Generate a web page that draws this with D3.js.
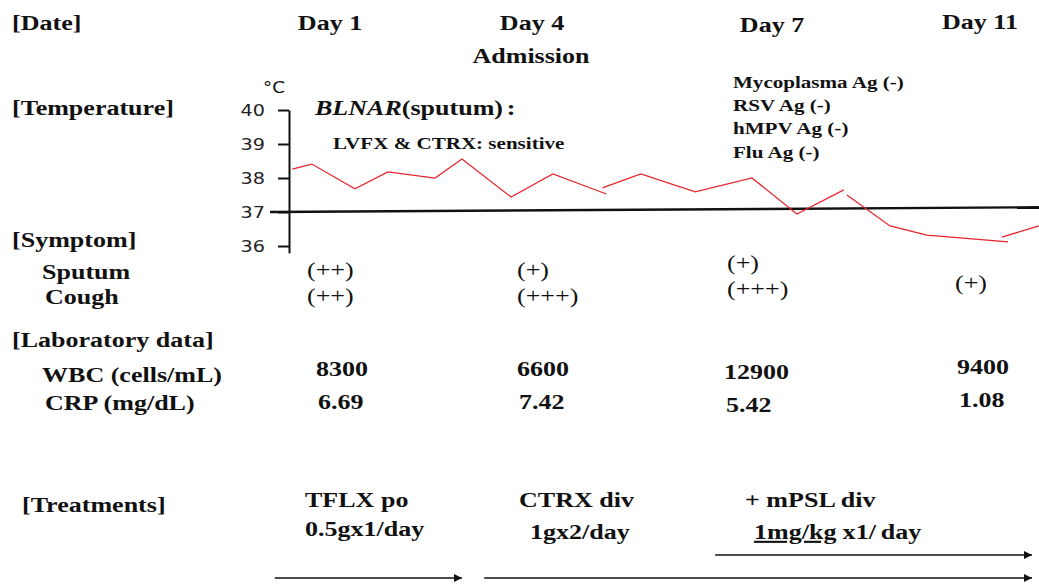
<!DOCTYPE html>
<html>
<head>
<meta charset="utf-8">
<script src="https://cdn.jsdelivr.net/npm/d3@7"></script>
<style>
  body { margin: 0; background: #fff; }
  svg { display: block; }
  text { font-family: "Liberation Serif", "Times New Roman", serif; fill: #111; }
  .axis text { font-family: "DejaVu Sans", sans-serif; font-size: 16px; fill: #222; }
</style>
</head>
<body>
<div id="chart"></div>
<script>
// columns
const days = [1, 4, 7, 11];
const dayLabels = ["Day 1", "Day 4", "Day 7", "Day 11"];

// temperature, drawn as separate pieces like the original sheet
const tempDays = [
  [0.44, 0.73, 1.37, 1.86, 2.56, 2.96, 3.69, 4.26, 4.93],
  [4.88, 5.36, 6.04, 6.75, 7.48, 8.38],
  [8.44, 9.27, 9.98, 11.54],
  [11.42, 12.13]
];
const tempValues = [
  [38.26, 38.41, 37.68, 38.18, 38.0, 38.56, 37.44, 38.12, 37.53],
  [37.71, 38.12, 37.59, 38.0, 36.94, 37.65],
  [37.5, 36.59, 36.32, 36.12],
  [36.26, 36.59]
];
const tempTicks = [36, 37, 38, 39, 40];
const normalTemp = 37;

// symptoms
const sputum = ["(++)", "(+)", "(+)", null];
const cough = ["(++)", "(+++)", "(+++)", "(+)"];

// lab data
const wbc = [8300, 6600, 12900, 9400];
const crp = ["6.69", "7.42", "5.42", "1.08"];

const antigens = ["Mycoplasma Ag (-)", "RSV Ag (-)", "hMPV Ag (-)", "Flu Ag (-)"];

// treatments
const drugs = ["TFLX po", "CTRX div", "+ mPSL div"];
const doses = ["0.5gx1/day", "1gx2/day", "1mg/kg"];
const drugStart = [0.18, 3.29, 6.29];
const drugEnd = [2.96, 12.0, 12.0];

const W = 1039, H = 585;
const SX = 1.24; // the scanned sheet is stretched sideways

const svg = d3.select("#chart").append("svg")
  .attr("width", W)
  .attr("height", H);

svg.append("rect").attr("width", W).attr("height", H).attr("fill", "#fff");

const x = d3.scaleLinear().domain(days).range([330, 532, 772, 980]);
const y = d3.scaleLinear().domain([35.8, 40]).range([252.8, 110]);

// column anchors for the table rows
const symCol = d3.scaleOrdinal().domain(days).range([307, 517, 727, 955]);
const symDy = d3.scaleOrdinal().domain(days).range([0, 0, -7, -13]);
const labCol = d3.scaleOrdinal().domain(days).range([316, 517, 724, 957]);
const labDy = d3.scaleOrdinal().domain(days).range([0, 0, 3, -2]);
const txCol = d3.scaleOrdinal().domain(drugs).range([305, 519, 745]);
const doseCol = d3.scaleOrdinal().domain(drugs).range([305, 530, 754]);

const at = (xx, yy) => `translate(${xx},${yy}) scale(${SX},1)`;

function label(t, xx, yy, size, weight){
  return svg.append("text")
    .attr("transform", at(xx, yy))
    .attr("font-size", size)
    .attr("font-weight", weight || "bold")
    .text(t);
}

// row headings
label("[Date]", 12, 30, 21);
label("[Temperature]", 12, 115, 21);
label("[Symptom]", 12, 247, 21);
label("Sputum", 42, 279, 21);
label("Cough", 45, 304, 21);
label("[Laboratory data]", 12, 347, 21);
label("WBC (cells/mL)", 42, 382, 21);
label("CRP (mg/dL)", 45, 410, 21);
label("[Treatments]", 22, 512, 21);

// day header
const dayDy = [0, 0, 2, -1];
svg.selectAll("text.day").data(days).join("text")
  .attr("class", "day")
  .attr("transform", (d, i) => at(x(d), 30 + dayDy[i]))
  .attr("text-anchor", "middle")
  .attr("font-size", 21).attr("font-weight", "bold")
  .text((d, i) => dayLabels[i]);
svg.append("text")
  .attr("transform", at(x(4) - 1, 63))
  .attr("text-anchor", "middle")
  .attr("font-size", 21).attr("font-weight", "bold")
  .text("Admission");

// temperature axis
const axis = svg.append("g")
  .attr("class", "axis")
  .attr("transform", "translate(289,0)")
  .call(d3.axisLeft(y).tickValues(tempTicks).tickSize(11).tickSizeOuter(0).tickFormat(d3.format("d")));
axis.select(".domain").attr("stroke", "#111").attr("stroke-width", 2);
axis.selectAll(".tick line").attr("stroke", "#111").attr("stroke-width", 2);
axis.selectAll(".tick text").attr("x", null).attr("transform", `translate(-24,0) scale(1.2,1)`);
svg.append("text")
  .attr("transform", `translate(263,93) scale(1.15,1)`)
  .style("font-family", "'DejaVu Sans', sans-serif")
  .attr("font-size", 16).attr("fill", "#222")
  .text("°C");

// 37 degree line
svg.append("line")
  .attr("x1", 270).attr("x2", W)
  .attr("y1", y(normalTemp)).attr("y2", y(normalTemp + 0.14))
  .attr("stroke", "#111").attr("stroke-width", 2.4);

// temperature trace
const line = d3.line().x(d => x(d[0])).y(d => y(d[1]));
svg.selectAll("path.temp").data(tempDays.map((ds, i) => ds.map((d, j) => [d, tempValues[i][j]])))
  .join("path")
  .attr("class", "temp")
  .attr("d", line)
  .attr("fill", "none")
  .attr("stroke", "#e8232b")
  .attr("stroke-width", 1.2);

// culture note
const bl = svg.append("text").attr("transform", at(315, 115)).attr("font-size", 21).attr("font-weight", "bold");
bl.append("tspan").attr("font-style", "italic").text("BLNAR");
bl.append("tspan").text("(sputum)");
bl.append("tspan").attr("dx", 3).text(":");
label("LVFX & CTRX: sensitive", 333, 149, 17);

svg.selectAll("text.ag").data(antigens).join("text")
  .attr("class", "ag")
  .attr("transform", (d, i) => at(733, 88 + i * 23.2))
  .attr("font-size", 17).attr("font-weight", "bold")
  .text(d => d);

// symptoms
svg.selectAll("text.sputum").data(days.filter((d, i) => sputum[i])).join("text")
  .attr("class", "sputum")
  .attr("transform", d => at(symCol(d), 277 + symDy(d)))
  .attr("font-size", 21)
  .text(d => sputum[days.indexOf(d)]);
svg.selectAll("text.cough").data(days).join("text")
  .attr("class", "cough")
  .attr("transform", d => at(symCol(d), 303 + symDy(d)))
  .attr("font-size", 21)
  .text((d, i) => cough[i]);

// lab values
svg.selectAll("text.wbc").data(days).join("text")
  .attr("class", "wbc")
  .attr("transform", d => at(labCol(d), 376 + labDy(d)))
  .attr("font-size", 21).attr("font-weight", "bold")
  .text((d, i) => wbc[i]);
svg.selectAll("text.crp").data(days).join("text")
  .attr("class", "crp")
  .attr("transform", d => at(labCol(d) + 2, 409 + labDy(d)))
  .attr("font-size", 21).attr("font-weight", "bold")
  .text((d, i) => crp[i]);

// treatments
svg.selectAll("text.drug").data(drugs).join("text")
  .attr("class", "drug")
  .attr("transform", d => at(txCol(d), 507))
  .attr("font-size", 21).attr("font-weight", "bold")
  .text(d => d);
const doseText = svg.selectAll("text.dose").data(drugs).join("text")
  .attr("class", "dose")
  .attr("transform", (d, i) => at(doseCol(d), i === 0 ? 536 : 539))
  .attr("font-size", 21).attr("font-weight", "bold");
doseText.append("tspan")
  .style("text-decoration", (d, i) => i === 2 ? "underline" : null)
  .text((d, i) => doses[i]);
doseText.filter((d, i) => i === 2).append("tspan").attr("dx", 5).text("x1/");
doseText.filter((d, i) => i === 2).append("tspan").attr("dx", 4).text("day");

svg.append("defs").append("marker")
  .attr("id", "head")
  .attr("viewBox", "0 0 10 10")
  .attr("refX", 10).attr("refY", 5)
  .attr("markerWidth", 9).attr("markerHeight", 8)
  .attr("markerUnits", "userSpaceOnUse")
  .attr("orient", "auto")
  .append("path").attr("d", "M0,0L10,5L0,10Z").attr("fill", "#111");

const arrowY = [578, 578, 555];
svg.selectAll("line.rx").data(drugs).join("line")
  .attr("class", "rx")
  .attr("x1", (d, i) => x(drugStart[i]))
  .attr("x2", (d, i) => x(drugEnd[i]))
  .attr("y1", (d, i) => arrowY[i])
  .attr("y2", (d, i) => arrowY[i])
  .attr("stroke", "#111").attr("stroke-width", 1.5)
  .attr("marker-end", "url(#head)");
</script>
</body>
</html>
